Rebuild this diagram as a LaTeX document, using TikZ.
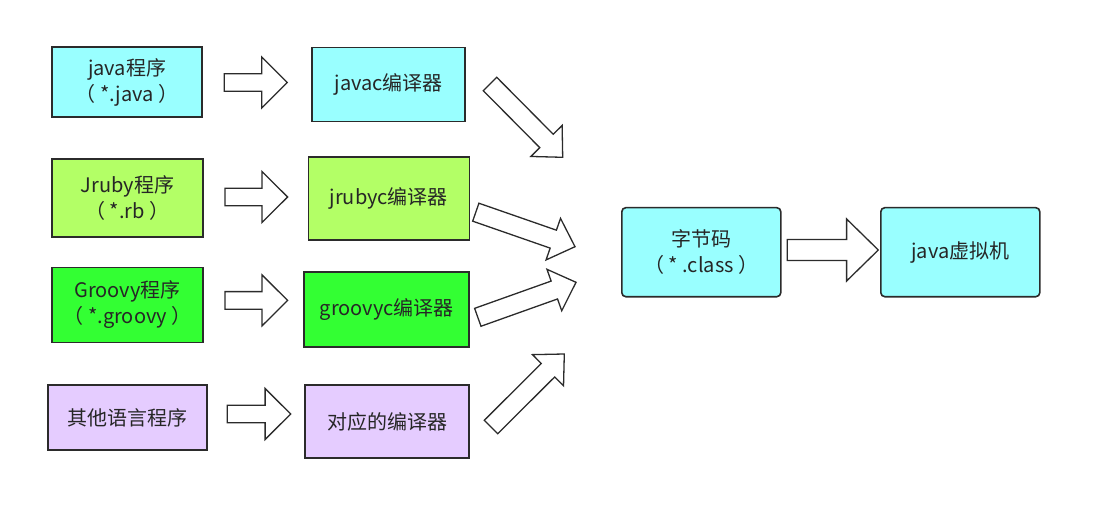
\documentclass[tikz,border=0pt]{standalone}
\usepackage{fontspec}
\setmainfont{Noto Sans CJK SC}
\usetikzlibrary{positioning, calc}

\definecolor{boxline}{HTML}{2B2B2B}
\definecolor{javacyan}{HTML}{99FFFF}
\definecolor{rubygreen}{HTML}{B3FF66}
\definecolor{groovygreen}{HTML}{33FF33}
\definecolor{otherlilac}{HTML}{E5CCFF}
\definecolor{labelgray}{HTML}{262626}

\begin{document}
\begin{tikzpicture}[x=1pt, y=-1pt, on grid,
        box/.style={draw=boxline, line width=1.6pt, text=labelgray, align=center, inner sep=0pt, font=\fontsize{20}{26}\selectfont},
        bytebox/.style={box, fill=javacyan, rounded corners=4pt, minimum width=159pt, minimum height=89pt},
        blockarrow/.style n args={3}{draw=boxline, fill=white, line width=1.3pt, line join=miter,
            to path={($(\tikztostart)!#1!90:(\tikztotarget)$)
                -- ($(\tikztotarget)!#3!(\tikztostart)!#1!90:(\tikztotarget)$)
                -- ($(\tikztotarget)!#3!(\tikztostart)!#2!90:(\tikztotarget)$)
                -- (\tikztotarget)
                -- ($(\tikztotarget)!#3!(\tikztostart)!#2!-90:(\tikztotarget)$)
                -- ($(\tikztotarget)!#3!(\tikztostart)!#1!-90:(\tikztotarget)$)
                -- ($(\tikztostart)!#1!-90:(\tikztotarget)$) -- cycle}},
        harrow/.style={blockarrow={8.8pt}{25.5pt}{25.6pt}},
        darrow/.style={blockarrow={9.5pt}{22pt}{23pt}},
        bigarrow/.style={blockarrow={10.5pt}{31pt}{31.7pt}}]
    \useasboundingbox (0,0) rectangle (1102,521);

    % sources
    \node[box, fill=javacyan, minimum width=150pt, minimum height=70pt] (java) at (127,82.3) {java程序\\（ *.java ）};
    \node[box, fill=rubygreen, minimum width=151pt, minimum height=78pt] (jruby) at (127.5,198.3) {Jruby程序\\（ *.rb ）};
    \node[box, fill=groovygreen, minimum width=151pt, minimum height=75pt] (groovy) at (127.5,305) {Groovy程序\\（ *.groovy ）};
    \node[box, fill=otherlilac, minimum width=159pt, minimum height=65pt] (other) at (127.2,417.5) {其他语言程序};

    % compilers
    \node[box, fill=javacyan, minimum width=153pt, minimum height=74pt] (javac) at (388.7,84.5) {javac编译器};
    \node[box, fill=rubygreen, minimum width=161pt, minimum height=83pt] (jrubyc) at (388.8,198.7) {jrubyc编译器};
    \node[box, fill=groovygreen, minimum width=165pt, minimum height=75pt] (groovyc) at (386.7,309.2) {groovyc编译器};
    \node[box, fill=otherlilac, minimum width=164pt, minimum height=73pt] (othercomp) at (387.2,421.7) {对应的编译器};

    % bytecode and vm
    \node[bytebox] (bytecode) at (701.3,252.2) {字节码\\（ * .class ）};
    \node[bytebox] (jvm) [right=259pt of bytecode] {java虚拟机};

    % arrow ends
    \coordinate (a1) at (224.3,82.5);  \coordinate (b1) at (287.3,82.5);
    \coordinate (a2) at (225,197);     \coordinate (b2) at (287.6,197);
    \coordinate (a3) at (225,300.4);   \coordinate (b3) at (287.6,300.4);
    \coordinate (a4) at (227.3,414);   \coordinate (b4) at (290.7,414);
    \coordinate (c1) at (490,84);      \coordinate (d1) at (562.7,157.3);
    \coordinate (c2) at (475.8,212.2); \coordinate (d2) at (575,246.7);
    \coordinate (c3) at (477.8,317.3); \coordinate (d3) at (576,282.3);
    \coordinate (c4) at (491,427);     \coordinate (d4) at (564.3,354);
    \coordinate (e1) at (787.3,250);   \coordinate (f1) at (878.3,250);

    \foreach \i in {1,...,4}
        \draw[harrow] (a\i) to (b\i);
    \foreach \i in {1,...,4}
        \draw[darrow] (c\i) to (d\i);
    \draw[bigarrow] (e1) to (f1);
\end{tikzpicture}
\end{document}
